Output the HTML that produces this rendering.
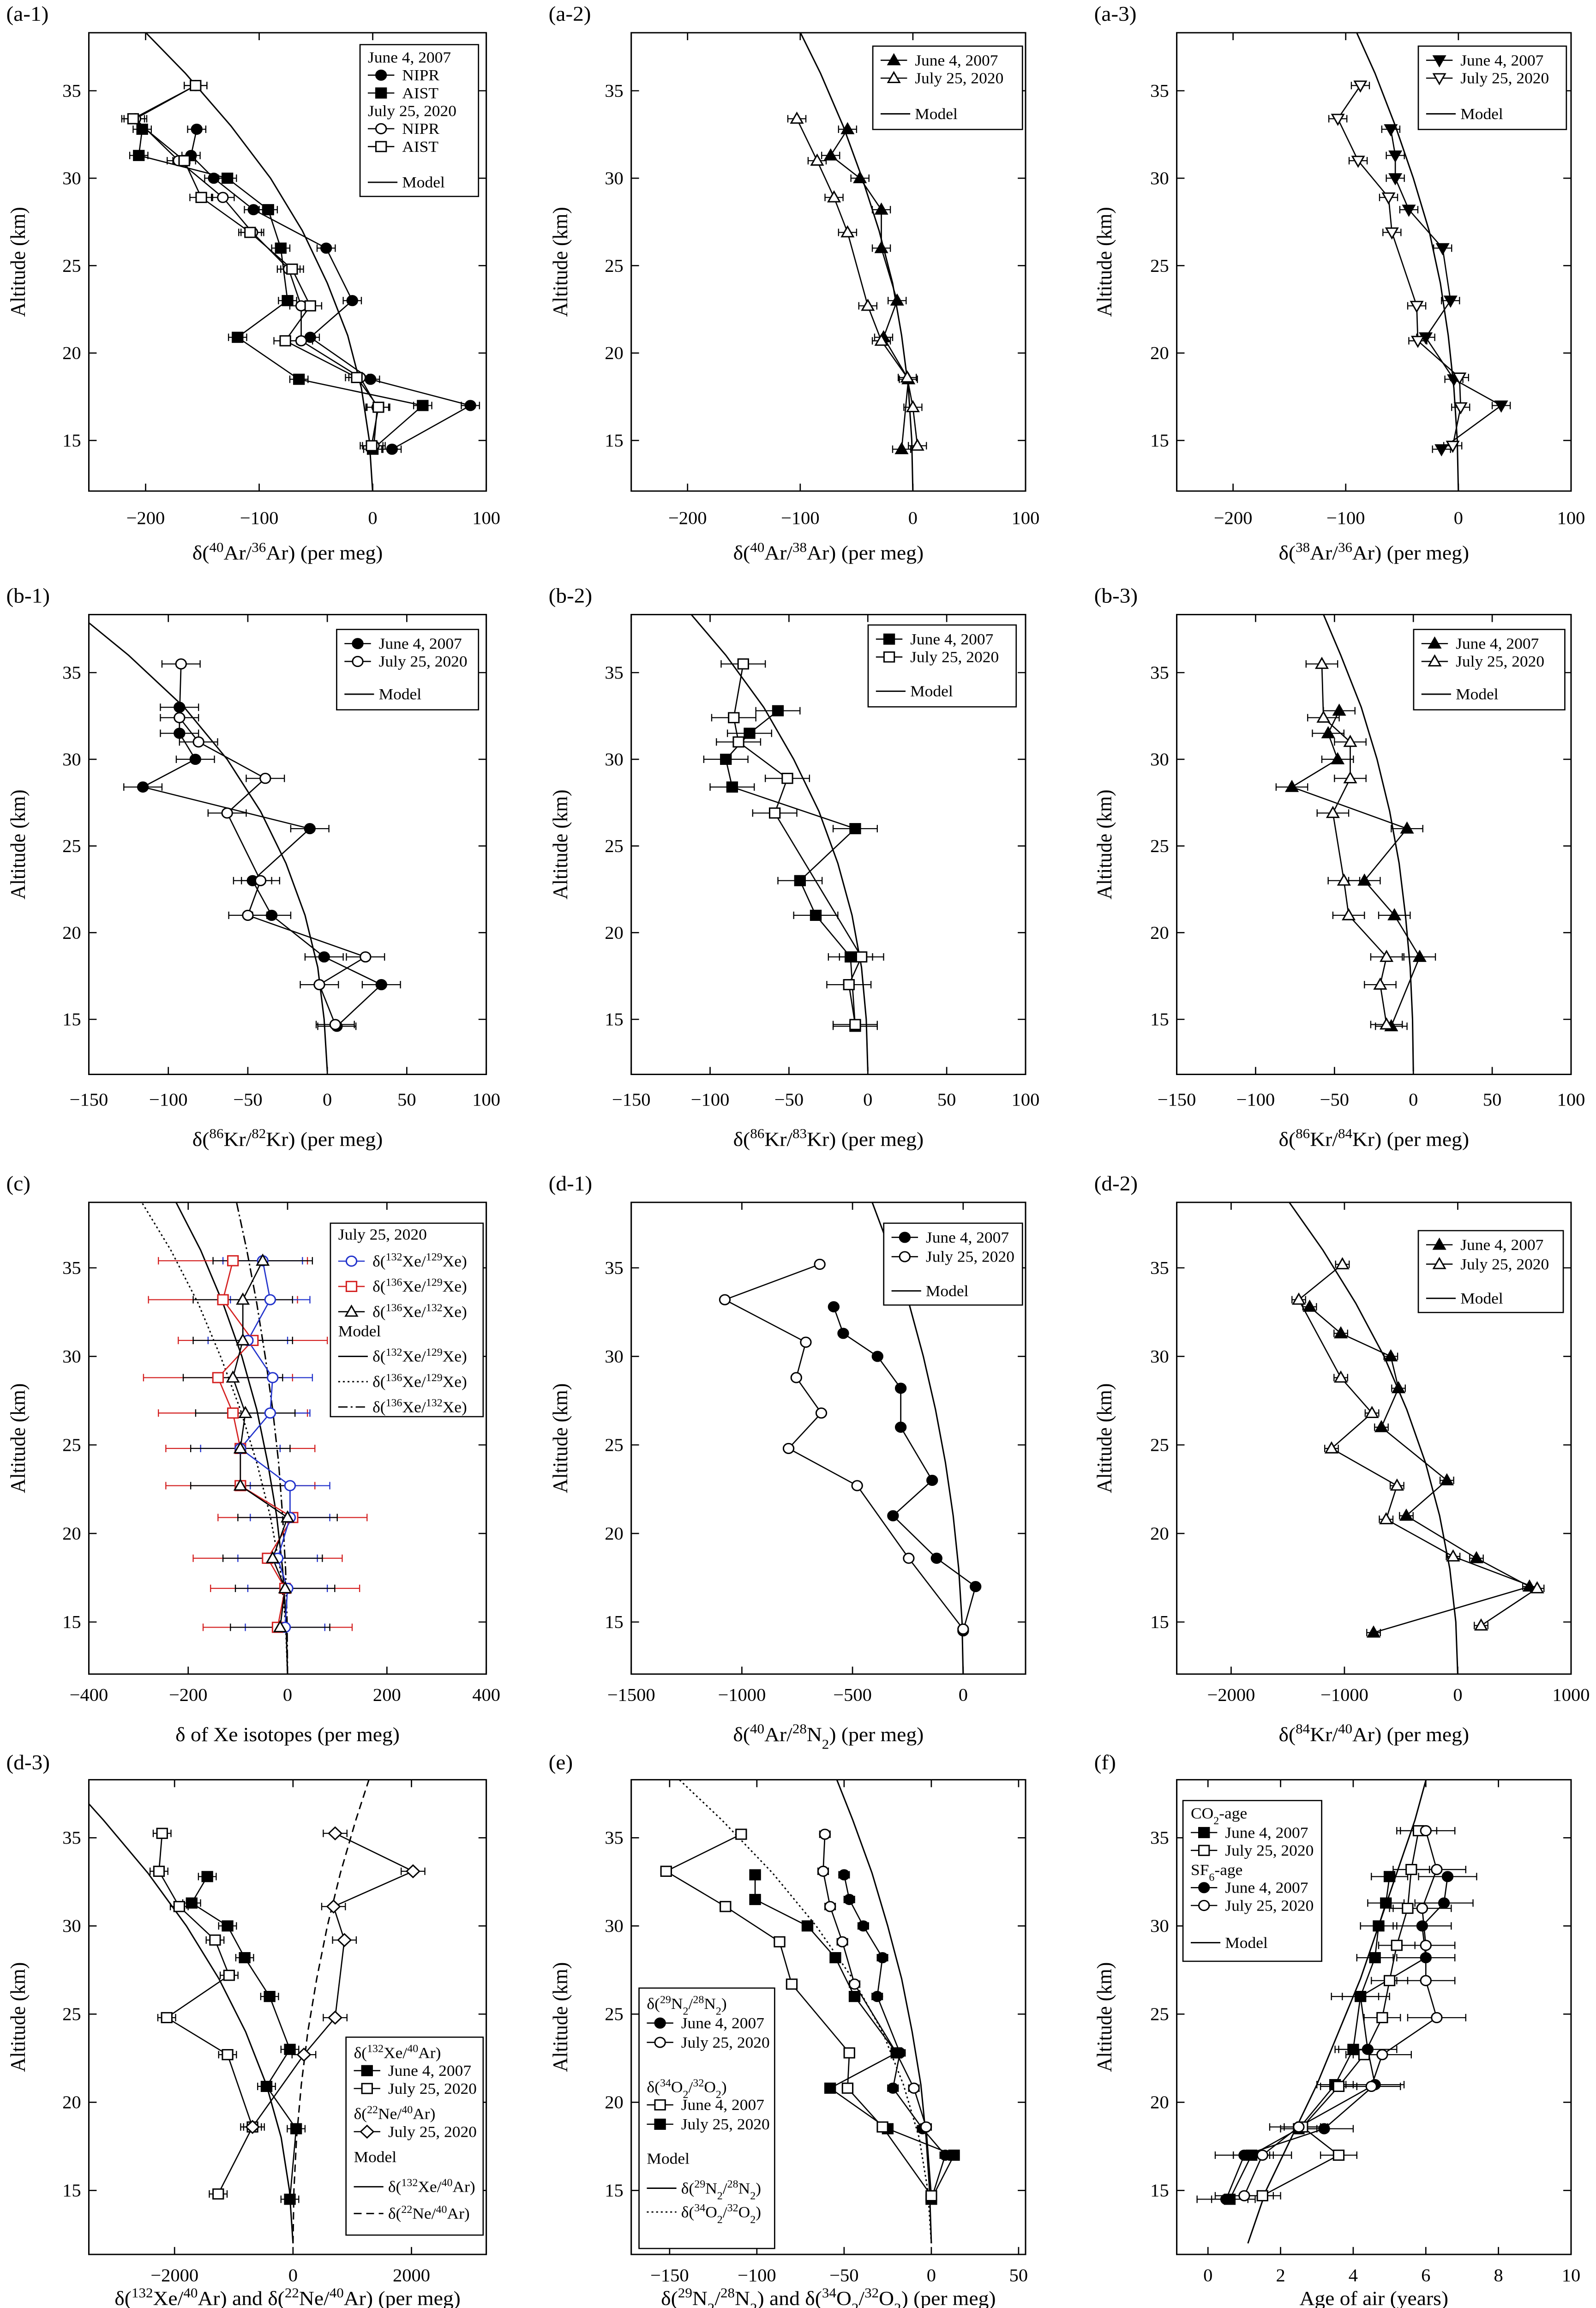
<!DOCTYPE html>
<html><head><meta charset="utf-8"><title>Isotope profiles</title>
<style>
html,body{margin:0;padding:0;background:#fff;width:100%;height:100%;overflow:hidden;}
svg{display:block;position:fixed;left:0;top:0;width:100vw;height:100vh;font-family:"Liberation Serif","DejaVu Serif",serif;}
</style></head>
<body>
<svg id="fig" xmlns="http://www.w3.org/2000/svg" viewBox="0 0 1024 1551" preserveAspectRatio="none">
<rect x="0" y="0" width="1024" height="1551" fill="#fff"/>
</svg>
<script>
// ---------- DATA ----------
const modelAlt=[12,15,18,21,24,27,30,33,36,39];
const a1Alt07=[14.5,17.0,18.5,20.9,23.0,26.0,28.2,30.0,31.3,32.8];
const a1Nipr07=[17,86,-2,-55,-18,-41,-105,-140,-160,-155];
const a1Aist07=[0,44,-65,-119,-75,-81,-92,-128,-206,-203];
const a1Alt20=[14.7,16.9,18.6,20.7,22.7,24.8,26.9,28.9,31.0,33.4,35.3];
const a1Nipr20=[1,4,-11,-63,-63,-74,-106,-132,-171,-209,-156];
const a1Aist20=[-1,5,-14,-77,-55,-71,-108,-151,-166,-211,-156];
const a1Model=[0,-3,-10,-22,-40,-62,-90,-125,-165,-210];
const a2Alt07=[14.5,18.5,20.9,23.0,26.0,28.2,30.0,31.3,32.8];
const a2V07=[-10,-4,-26,-14,-28,-28,-47,-73,-58];
const a2Alt20=[14.7,16.9,18.6,20.7,22.7,26.9,28.9,31.0,33.4];
const a2V20=[4,0,-5,-28,-40,-58,-70,-85,-103];
const a2Model=[0,-1,-4,-10,-18,-30,-45,-62,-82,-105];
const a3Alt07=[14.5,17.0,18.5,20.9,23.0,26.0,28.2,30.0,31.3,32.8];
const a3V07=[-15,38,-4,-29,-7,-14,-44,-56,-56,-60];
const a3Alt20=[14.7,16.9,18.6,20.7,22.7,26.9,28.9,31.0,33.4,35.3];
const a3V20=[-5,2,1,-36,-37,-59,-62,-89,-107,-87];
const a3Model=[0,-1,-4,-9,-16,-26,-40,-56,-74,-95];
const b1Alt07=[14.6,17.0,18.6,21.0,23.0,26.0,28.4,30.0,31.5,33.0];
const b1V07=[6,34,-2,-35,-47,-11,-116,-83,-93,-93];
const b1Alt20=[14.7,17.0,18.6,21.0,23.0,26.9,28.9,31.0,32.4,35.5];
const b1V20=[5,-5,24,-50,-42,-63,-39,-81,-93,-92];
const b1Model=[0,-2,-6,-14,-26,-42,-63,-90,-125,-165];
const b2Alt07=[14.6,18.6,21.0,23.0,26.0,28.4,30.0,31.5,32.8];
const b2V07=[-8,-11,-33,-43,-8,-86,-90,-75,-57];
const b2Alt20=[14.7,17.0,18.6,26.9,28.9,31.0,32.4,35.5];
const b2V20=[-8,-12,-4,-59,-51,-82,-85,-79];
const b2Model=[0,-1,-4,-10,-19,-31,-47,-66,-90,-118];
const b3Alt07=[14.6,18.6,21.0,23.0,26.0,28.4,30.0,31.5,32.8];
const b3V07=[-14,4,-12,-31,-4,-77,-48,-54,-47];
const b3Alt20=[14.7,17.0,18.6,21.0,23.0,26.9,28.9,31.0,32.4,35.5];
const b3V20=[-17,-21,-17,-41,-44,-51,-40,-40,-57,-58];
const b3Model=[0,-0.5,-2,-5,-9,-15,-23,-33,-46,-60];
const cAlt=[14.7,16.9,18.6,20.9,22.7,24.8,26.8,28.8,30.9,33.2,35.4];
const cXe132_129=[-5,0,-20,5,5,-95,-35,-30,-80,-35,-50];
const cXe136_129=[-20,-5,-40,10,-95,-95,-110,-140,-70,-130,-110];
const cXe136_132=[-15,-5,-30,0,-95,-95,-85,-110,-90,-90,-50];
const cModel132_129=[0,-3,-10,-22,-40,-62,-92,-130,-175,-230];
const cModel136_129=[0,-4,-15,-35,-62,-95,-135,-180,-235,-300];
const cModel136_132=[0,-1,-4,-10,-18,-30,-45,-62,-82,-105];
const d1Alt07=[14.5,17.0,18.6,21.0,23.0,26.0,28.2,30.0,31.3,32.8];
const d1V07=[0,56,-120,-317,-140,-282,-282,-387,-542,-585];
const d1Alt20=[14.6,18.6,22.7,24.8,26.8,28.8,30.8,33.2,35.2];
const d1V20=[0,-246,-479,-789,-641,-754,-711,-1077,-648];
const d1Model=[0,-5,-20,-45,-80,-125,-180,-245,-330,-420];
const d2Alt07=[14.4,17.0,18.6,21.0,23.0,26.0,28.2,30.0,31.3,32.8];
const d2V07=[-743,633,165,-454,-96,-674,-523,-591,-1032,-1307];
const d2Alt20=[14.8,16.9,18.7,20.8,22.7,24.8,26.8,28.8,33.2,35.2];
const d2V20=[206,701,-41,-632,-536,-1114,-757,-1032,-1403,-1018];
const d2Model=[0,-17,-70,-160,-285,-450,-650,-900,-1190,-1520];
const d3Alt07=[14.5,18.5,20.9,23.0,26.0,28.2,30.0,31.3,32.8];
const d3Xe07=[-53,53,-447,-53,-395,-816,-1105,-1711,-1447];
const d3Alt20=[14.8,18.6,22.7,24.8,27.2,29.2,31.1,33.1,35.25];
const d3Xe20=[-1263,-684,-1105,-2132,-1079,-1316,-1921,-2263,-2210];
const d3NeAlt20=[18.6,22.7,24.8,29.2,31.1,33.1,35.25];
const d3Ne20=[-684,184,711,868,684,2026,711];
const d3ModelXe=[0,-60,-200,-450,-800,-1250,-1800,-2450,-3200,-4000];
const d3ModelNe=[0,15,60,140,250,400,580,800,1060,1350];
const eAlt07=[14.5,17.0,18.5,20.8,22.8,26.0,28.2,30.0,31.5,32.9];
const eN07=[0,8,-5,-22,-18,-31,-28,-39,-47,-50];
const eO07=[0,13,-25,-58,-20,-44,-55,-71,-101,-101];
const eAlt20=[14.7,18.6,20.8,22.8,26.7,29.1,31.1,33.1,35.2];
const eN20=[0,-3,-10,-20,-44,-51,-58,-62,-61];
const eO20=[0,-28,-48,-47,-80,-87,-118,-152,-109];
const eModelN=[0,-1,-3,-6,-11,-17,-25,-34,-45,-57];
const eModelO=[0,-2,-7,-16,-28,-45,-66,-91,-120,-152];
const fAlt07=[14.5,17.0,18.5,21.0,23.0,26.0,28.2,30.0,31.3,32.8];
const fCO07=[0.6,1.2,2.5,3.5,4.0,4.2,4.6,4.7,4.9,5.0];
const fSF07=[0.5,1.0,3.2,4.6,4.4,4.2,6.0,5.9,6.5,6.6];
const fAlt20=[14.7,17.0,18.6,20.9,22.7,24.8,26.9,28.9,31.0,33.2,35.4];
const fCO20=[1.5,3.6,2.6,3.6,4.3,4.8,5.0,5.2,5.5,5.6,5.8];
const fSF20=[1.0,1.5,2.5,4.5,4.8,6.3,6.0,6.0,5.9,6.3,6.0];
const fModel=[1.1,1.6,2.3,3.0,3.6,4.2,4.7,5.2,5.7,6.1];
const yTicks=[15,20,25,30,35];
const ticksA=[-200,-100,0,100];
const ticksB=[-150,-100,-50,0,50,100];
const ticksC=[-400,-200,0,200,400];
const ticksD1=[-1500,-1000,-500,0];
const ticksD2=[-2000,-1000,0,1000];
const ticksD3=[-2000,0,2000];
const ticksE=[-150,-100,-50,0,50];
const ticksF=[0,2,4,6,8,10];

// ---------- LAYOUT ----------
const NS="http://www.w3.org/2000/svg";
const svg=document.getElementById('fig');
const ROWS=[{top:22,bottom:330,p15:296,p35:61,lab:352,tit:376,pl:14},
            {top:413,bottom:722,p15:685,p35:452,lab:743,tit:770,pl:405},
            {top:808,bottom:1125,p15:1090,p35:852,lab:1143,tit:1170,pl:800},
            {top:1196,bottom:1515,p15:1472,p35:1235,lab:1533,tit:1549,pl:1189}];
const COLS=[{l:57,r:312,lx:4,ty:16},{l:405,r:658,lx:352,ty:364},{l:755,r:1008,lx:702,ty:713}];

function mk(tag,attrs,name,parent){
  const el=document.createElementNS(NS,tag);
  for(const k in attrs) el.setAttribute(k,attrs[k]);
  
  
  (parent||svg).appendChild(el);
  return el;
}
function rich(el,str,fs){
  const re=/<(sup|sub)>(.*?)<\/\1>/g; let last=0,m;
  while((m=re.exec(str))){
    if(m.index>last){const t=document.createElementNS(NS,'tspan');t.textContent=str.slice(last,m.index);el.appendChild(t);}
    const t=document.createElementNS(NS,'tspan');
    t.setAttribute('baseline-shift',m[1]==='sup'?'super':'sub');
    t.setAttribute('font-size',(fs*0.68).toFixed(1));
    t.textContent=m[2];el.appendChild(t);last=re.lastIndex;
  }
  if(last<str.length){const t=document.createElementNS(NS,'tspan');t.textContent=str.slice(last);el.appendChild(t);}
}
function text(x,y,str,fs,anchor,name,extra){
  const a={x:x,y:y,'font-size':fs,'text-anchor':anchor||'start',fill:'#000'};
  if(extra) for(const k in extra) a[k]=extra[k];
  const t=mk('text',a,name);
  rich(t,str,fs);
  return t;
}
function marker(g,x,y,type,fill,color,name){
  const c=color||'#000', f=fill?c:'#fff', s=3.3;
  const base={stroke:c,'stroke-width':0.9,fill:f};
  if(type==='circle'){base.cx=x;base.cy=y;base.r=s;return mk('circle',base,name,g);}
  if(type==='square'){base.x=x-s;base.y=y-s;base.width=2*s;base.height=2*s;return mk('rect',base,name,g);}
  let pts;
  if(type==='tri') pts=[[x,y-s-0.6],[x+s+0.4,y+s-0.4],[x-s-0.4,y+s-0.4]];
  else if(type==='tridown') pts=[[x,y+s+0.6],[x+s+0.4,y-s+0.4],[x-s-0.4,y-s+0.4]];
  else pts=[[x,y-s-0.8],[x+s+0.8,y],[x,y+s+0.8],[x-s-0.8,y]];
  base.points=pts.map(p=>p.join(',')).join(' ');
  return mk('polygon',base,name,g);
}
const DASH={solid:'',dot:'1.2,1.8',dash:'5,3',dashdot:'6,2,1.2,2'};

function panel(cfg){
  const R=ROWS[cfg.row], C=COLS[cfg.col];
  const sy=(R.p15-R.p35)/20;
  const yS=a=>R.p35+(35-a)*sy;
  const xS=v=>C.l+(v-cfg.xmin)/(cfg.xmax-cfg.xmin)*(C.r-C.l);
  const g=mk('g',{},'panel-'+cfg.id);
  const clipId='clip-'+cfg.id;
  const cp=mk('clipPath',{id:clipId},'clip-'+cfg.id,g);
  mk('rect',{x:C.l,y:R.top,width:C.r-C.l,height:R.bottom-R.top},'clip-rect',cp);
  mk('rect',{x:C.l,y:R.top,width:C.r-C.l,height:R.bottom-R.top,fill:'none',stroke:'#000','stroke-width':0.9},'plot-frame-'+cfg.id,g);
  cfg.xticks.forEach(v=>{
    const x=xS(v);
    mk('line',{x1:x,x2:x,y1:R.bottom,y2:R.bottom-5,stroke:'#000','stroke-width':0.8},'x-tick',g);
    mk('line',{x1:x,x2:x,y1:R.top,y2:R.top+5,stroke:'#000','stroke-width':0.8},'x-tick-top',g);
    const t=text(x,R.lab,String(v).replace('-','\u2212'),12,'middle','x-tick-label');
    g.appendChild(t);
  });
  yTicks.forEach(a=>{
    const y=yS(a);
    mk('line',{x1:C.l,x2:C.l+5,y1:y,y2:y,stroke:'#000','stroke-width':0.8},'y-tick',g);
    mk('line',{x1:C.r,x2:C.r-5,y1:y,y2:y,stroke:'#000','stroke-width':0.8},'y-tick-right',g);
    const t=text(C.l-5,y+4,String(a),12,'end','y-tick-label');
    g.appendChild(t);
  });
  const pg=mk('g',{'clip-path':'url(#'+clipId+')'},'plot-area-'+cfg.id,g);
  (cfg.models||[]).forEach(m=>{
    const pts=modelAlt.map((a,i)=>xS(m.v[i]).toFixed(2)+','+yS(a).toFixed(2)).join(' ');
    const at={points:pts,fill:'none',stroke:'#000','stroke-width':0.9};
    if(DASH[m.dash]) at['stroke-dasharray']=DASH[m.dash];
    mk('polyline',at,'model-curve',pg);
  });
  cfg.series.forEach(s=>{
    const c=s.color||'#000';
    const pts=s.alt.map((a,i)=>xS(s.v[i]).toFixed(2)+','+yS(a).toFixed(2)).join(' ');
    mk('polyline',{points:pts,fill:'none',stroke:c,'stroke-width':0.8},s.name+'-line',pg);
    s.alt.forEach((a,i)=>{
      const x1=xS(s.v[i]-s.err),x2=xS(s.v[i]+s.err),y=yS(a);
      mk('line',{x1:x1,x2:x2,y1:y,y2:y,stroke:c,'stroke-width':0.7},s.name+'-errorbar',pg);
      mk('line',{x1:x1,x2:x1,y1:y-2.5,y2:y+2.5,stroke:c,'stroke-width':0.7},'errorbar-cap',pg);
      mk('line',{x1:x2,x2:x2,y1:y-2.5,y2:y+2.5,stroke:c,'stroke-width':0.7},'errorbar-cap',pg);
    });
  });
  cfg.series.forEach(s=>{
    s.alt.forEach((a,i)=>marker(pg,xS(s.v[i]),yS(a),s.m,s.fill,s.color,s.name+'-point'));
  });
  text(C.lx,R.pl,'('+cfg.id+')',14,'start','panel-label-'+cfg.id);
  const cy=(R.top+R.bottom)/2;
  text(C.ty,cy,'Altitude (km)',13.5,'middle','y-axis-title',{transform:'rotate(-90 '+C.ty+' '+cy+')'});
  text((C.l+C.r)/2,R.tit,cfg.xtitle,13.5,'middle','x-axis-title');
  if(cfg.legend){
    const L=cfg.legend;
    mk('rect',{x:L.x,y:L.y,width:L.w,height:L.h,fill:'#fff',stroke:'#000','stroke-width':0.8},'legend-box',g);
    L.items.forEach(it=>{
      const y=L.y+it.dy;
      if(it.m){
        mk('line',{x1:L.x+5,x2:L.x+22,y1:y-3.5,y2:y-3.5,stroke:it.color||'#000','stroke-width':0.8},'legend-line',g);
        marker(g,L.x+13.5,y-3.5,it.m,it.fill,it.color,'legend-marker');
      } else if(it.line){
        const at={x1:L.x+5,x2:L.x+24,y1:y-3.5,y2:y-3.5,stroke:'#000','stroke-width':0.9};
        if(DASH[it.line]) at['stroke-dasharray']=DASH[it.line];
        mk('line',at,'legend-line',g);
      }
      text(L.x+(it.m||it.line?(it.ind||27):5),y,it.t,10.5,'start','legend-entry');
    });
  }
}

const J07='June 4, 2007', J20='July 25, 2020';
panel({id:'a-1',row:0,col:0,xmin:-250,xmax:100,xticks:ticksA,
  xtitle:'δ(<sup>40</sup>Ar/<sup>36</sup>Ar)  (per meg)',
  models:[{v:a1Model}],
  series:[{name:'nipr-2007',alt:a1Alt07,v:a1Nipr07,m:'circle',fill:true,err:8},
          {name:'aist-2007',alt:a1Alt07,v:a1Aist07,m:'square',fill:true,err:8},
          {name:'nipr-2020',alt:a1Alt20,v:a1Nipr20,m:'circle',fill:false,err:10},
          {name:'aist-2020',alt:a1Alt20,v:a1Aist20,m:'square',fill:false,err:10}],
  legend:{x:231,y:30,w:76,h:102,items:[{t:J07,dy:12},{t:'NIPR',dy:24,m:'circle',fill:true},{t:'AIST',dy:36,m:'square',fill:true},
    {t:J20,dy:48},{t:'NIPR',dy:60,m:'circle'},{t:'AIST',dy:72,m:'square'},{t:'Model',dy:96,line:'solid'}]}});
panel({id:'a-2',row:0,col:1,xmin:-250,xmax:100,xticks:ticksA,
  xtitle:'δ(<sup>40</sup>Ar/<sup>38</sup>Ar)  (per meg)',models:[{v:a2Model}],
  series:[{name:'june-2007',alt:a2Alt07,v:a2V07,m:'tri',fill:true,err:8},
          {name:'july-2020',alt:a2Alt20,v:a2V20,m:'tri',fill:false,err:8}],
  legend:{x:560,y:31,w:96,h:56,items:[{t:J07,dy:13,m:'tri',fill:true},{t:J20,dy:25,m:'tri'},{t:'Model',dy:49,line:'solid'}]}});
panel({id:'a-3',row:0,col:2,xmin:-250,xmax:100,xticks:ticksA,
  xtitle:'δ(<sup>38</sup>Ar/<sup>36</sup>Ar)  (per meg)',models:[{v:a3Model}],
  series:[{name:'june-2007',alt:a3Alt07,v:a3V07,m:'tridown',fill:true,err:8},
          {name:'july-2020',alt:a3Alt20,v:a3V20,m:'tridown',fill:false,err:8}],
  legend:{x:910,y:31,w:95,h:56,items:[{t:J07,dy:13,m:'tridown',fill:true},{t:J20,dy:25,m:'tridown'},{t:'Model',dy:49,line:'solid'}]}});
panel({id:'b-1',row:1,col:0,xmin:-150,xmax:100,xticks:ticksB,
  xtitle:'δ(<sup>86</sup>Kr/<sup>82</sup>Kr)  (per meg)',models:[{v:b1Model}],
  series:[{name:'june-2007',alt:b1Alt07,v:b1V07,m:'circle',fill:true,err:12},
          {name:'july-2020',alt:b1Alt20,v:b1V20,m:'circle',fill:false,err:12}],
  legend:{x:216,y:423,w:91,h:54,items:[{t:J07,dy:13,m:'circle',fill:true},{t:J20,dy:25,m:'circle'},{t:'Model',dy:47,line:'solid'}]}});
panel({id:'b-2',row:1,col:1,xmin:-150,xmax:100,xticks:ticksB,
  xtitle:'δ(<sup>86</sup>Kr/<sup>83</sup>Kr)  (per meg)',models:[{v:b2Model}],
  series:[{name:'june-2007',alt:b2Alt07,v:b2V07,m:'square',fill:true,err:14},
          {name:'july-2020',alt:b2Alt20,v:b2V20,m:'square',fill:false,err:14}],
  legend:{x:557,y:420,w:95,h:55,items:[{t:J07,dy:13,m:'square',fill:true},{t:J20,dy:25,m:'square'},{t:'Model',dy:48,line:'solid'}]}});
panel({id:'b-3',row:1,col:2,xmin:-150,xmax:100,xticks:ticksB,
  xtitle:'δ(<sup>86</sup>Kr/<sup>84</sup>Kr)  (per meg)',models:[{v:b3Model}],
  series:[{name:'june-2007',alt:b3Alt07,v:b3V07,m:'tri',fill:true,err:10},
          {name:'july-2020',alt:b3Alt20,v:b3V20,m:'tri',fill:false,err:10}],
  legend:{x:907,y:423,w:97,h:54,items:[{t:J07,dy:13,m:'tri',fill:true},{t:J20,dy:25,m:'tri'},{t:'Model',dy:47,line:'solid'}]}});
panel({id:'c',row:2,col:0,xmin:-400,xmax:400,xticks:ticksC,
  xtitle:'δ of Xe isotopes (per meg)',
  models:[{v:cModel132_129,dash:'solid'},{v:cModel136_129,dash:'dot'},{v:cModel136_132,dash:'dashdot'}],
  series:[{name:'xe136-129',alt:cAlt,v:cXe136_129,m:'square',fill:false,color:'#d42020',err:150},
          {name:'xe132-129',alt:cAlt,v:cXe132_129,m:'circle',fill:false,color:'#2233cc',err:80},
          {name:'xe136-132',alt:cAlt,v:cXe136_132,m:'tri',fill:false,err:100}],
  legend:{x:212,y:822,w:98,h:130,items:[{t:J20,dy:11},
    {t:'δ(<sup>132</sup>Xe/<sup>129</sup>Xe)',dy:29,m:'circle',color:'#2233cc'},
    {t:'δ(<sup>136</sup>Xe/<sup>129</sup>Xe)',dy:46,m:'square',color:'#d42020'},
    {t:'δ(<sup>136</sup>Xe/<sup>132</sup>Xe)',dy:63,m:'tri'},
    {t:'Model',dy:76},
    {t:'δ(<sup>132</sup>Xe/<sup>129</sup>Xe)',dy:93,line:'solid'},
    {t:'δ(<sup>136</sup>Xe/<sup>129</sup>Xe)',dy:110,line:'dot'},
    {t:'δ(<sup>136</sup>Xe/<sup>132</sup>Xe)',dy:127,line:'dashdot'}]}});
panel({id:'d-1',row:2,col:1,xmin:-1500,xmax:282,xticks:ticksD1,
  xtitle:'δ(<sup>40</sup>Ar/<sup>28</sup>N<sub>2</sub>)  (per meg)',models:[{v:d1Model}],
  series:[{name:'june-2007',alt:d1Alt07,v:d1V07,m:'circle',fill:true,err:0},
          {name:'july-2020',alt:d1Alt20,v:d1V20,m:'circle',fill:false,err:0}],
  legend:{x:567,y:822,w:89,h:55,items:[{t:J07,dy:13,m:'circle',fill:true},{t:J20,dy:26,m:'circle'},{t:'Model',dy:49,line:'solid'}]}});
panel({id:'d-2',row:2,col:2,xmin:-2480,xmax:1000,xticks:ticksD2,
  xtitle:'δ(<sup>84</sup>Kr/<sup>40</sup>Ar)  (per meg)',models:[{v:d2Model}],
  series:[{name:'june-2007',alt:d2Alt07,v:d2V07,m:'tri',fill:true,err:60},
          {name:'july-2020',alt:d2Alt20,v:d2V20,m:'tri',fill:false,err:60}],
  legend:{x:910,y:827,w:93,h:55,items:[{t:J07,dy:13,m:'tri',fill:true},{t:J20,dy:26,m:'tri'},{t:'Model',dy:49,line:'solid'}]}});
panel({id:'d-3',row:3,col:0,xmin:-3447,xmax:3263,xticks:ticksD3,
  xtitle:'δ(<sup>132</sup>Xe/<sup>40</sup>Ar) and δ(<sup>22</sup>Ne/<sup>40</sup>Ar)  (per meg)',
  models:[{v:d3ModelXe,dash:'solid'},{v:d3ModelNe,dash:'dash'}],
  series:[{name:'xe-ar-2007',alt:d3Alt07,v:d3Xe07,m:'square',fill:true,err:150},
          {name:'xe-ar-2020',alt:d3Alt20,v:d3Xe20,m:'square',fill:false,err:150},
          {name:'ne-ar-2020',alt:d3NeAlt20,v:d3Ne20,m:'diamond',fill:false,err:200}],
  legend:{x:222,y:1369,w:88,h:133,items:[{t:'δ(<sup>132</sup>Xe/<sup>40</sup>Ar)',dy:14},
    {t:J07,dy:26,m:'square',fill:true},{t:J20,dy:38,m:'square'},
    {t:'δ(<sup>22</sup>Ne/<sup>40</sup>Ar)',dy:55},{t:J20,dy:67,m:'diamond'},
    {t:'Model',dy:84},{t:'δ(<sup>132</sup>Xe/<sup>40</sup>Ar)',dy:104,line:'solid'},
    {t:'δ(<sup>22</sup>Ne/<sup>40</sup>Ar)',dy:122,line:'dash'}]}});
panel({id:'e',row:3,col:1,xmin:-172,xmax:54,xticks:ticksE,
  xtitle:'δ(<sup>29</sup>N<sub>2</sub>/<sup>28</sup>N<sub>2</sub>) and δ(<sup>34</sup>O<sub>2</sub>/<sup>32</sup>O<sub>2</sub>)  (per meg)',
  models:[{v:eModelN,dash:'solid'},{v:eModelO,dash:'dot'}],
  series:[{name:'n2-2007',alt:eAlt07,v:eN07,m:'circle',fill:true,err:3},
          {name:'n2-2020',alt:eAlt20,v:eN20,m:'circle',fill:false,err:3},
          {name:'o2-2007',alt:eAlt07,v:eO07,m:'square',fill:true,err:3},
          {name:'o2-2020',alt:eAlt20,v:eO20,m:'square',fill:false,err:3}],
  legend:{x:410,y:1336,w:87,h:175,items:[{t:'δ(<sup>29</sup>N<sub>2</sub>/<sup>28</sup>N<sub>2</sub>)',dy:14},
    {t:J07,dy:27,m:'circle',fill:true},{t:J20,dy:40,m:'circle'},
    {t:'δ(<sup>34</sup>O<sub>2</sub>/<sup>32</sup>O<sub>2</sub>)',dy:70},
    {t:J07,dy:82,m:'square'},{t:J20,dy:95,m:'square',fill:true},
    {t:'Model',dy:118},{t:'δ(<sup>29</sup>N<sub>2</sub>/<sup>28</sup>N<sub>2</sub>)',dy:138,line:'solid'},
    {t:'δ(<sup>34</sup>O<sub>2</sub>/<sup>32</sup>O<sub>2</sub>)',dy:154,line:'dot'}]}});
panel({id:'f',row:3,col:2,xmin:-0.86,xmax:10,xticks:ticksF,
  xtitle:'Age of air (years)',models:[{v:fModel}],
  series:[{name:'co2-2007',alt:fAlt07,v:fCO07,m:'square',fill:true,err:0.5},
          {name:'co2-2020',alt:fAlt20,v:fCO20,m:'square',fill:false,err:0.5},
          {name:'sf6-2007',alt:fAlt07,v:fSF07,m:'circle',fill:true,err:0.8},
          {name:'sf6-2020',alt:fAlt20,v:fSF20,m:'circle',fill:false,err:0.8}],
  legend:{x:759,y:1210,w:89,h:108,items:[{t:'CO<sub>2</sub>-age',dy:12},
    {t:J07,dy:25,m:'square',fill:true},{t:J20,dy:37,m:'square'},
    {t:'SF<sub>6</sub>-age',dy:50},{t:J07,dy:62,m:'circle',fill:true},{t:J20,dy:74,m:'circle'},
    {t:'Model',dy:99,line:'solid'}]}});
</script>
</body></html>
